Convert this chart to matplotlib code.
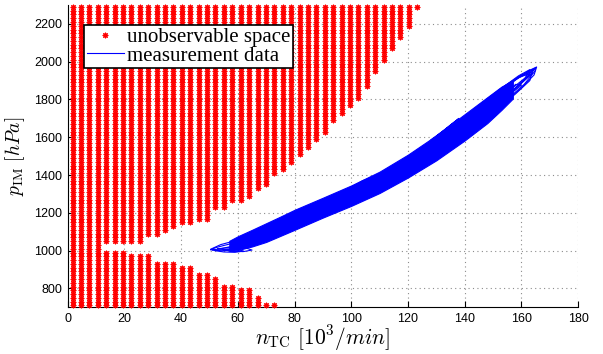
import matplotlib
matplotlib.use("Agg")
import matplotlib.pyplot as plt
import numpy as np

# grid of tested operating points (columns in n_TC, rows in p_IM)
n_grid = np.linspace(1.7, 123.3, 42)
p_grid = np.arange(710, 2300, 20)

# per column: lowest p of the upper unobservable block, highest p of the lower block
upper_min = [0, 0, 0, 0, 1050, 1050, 1050, 1050, 1050, 1090, 1090, 1110, 1130, 1150,
             1150, 1170, 1170, 1230, 1230, 1270, 1270, 1290, 1330, 1350, 1410, 1430,
             1470, 1510, 1550, 1590, 1630, 1690, 1730, 1770, 1810, 1870, 1950, 2010,
             2070, 2130, 2190, 2290]
lower_max = [0, 0, 0, 0, 990, 990, 990, 970, 970, 970, 930, 930, 930, 910, 910, 870,
             870, 850, 810, 810, 790, 790, 750, 710, 710, 0, 0, 0, 0, 0, 0, 0, 0, 0,
             0, 0, 0, 0, 0, 0, 0, 0]

# dense core of the measurement band
band_n = [57, 60, 65, 70, 75, 80, 90, 100, 110, 120, 130, 140, 148, 153, 157]
band_upper = [1052, 1076, 1110, 1145, 1180, 1216, 1280, 1345, 1418, 1508, 1610, 1722,
              1812, 1868, 1900]
band_lower = [998, 1003, 1022, 1046, 1078, 1110, 1175, 1237, 1305, 1387, 1478, 1583,
              1675, 1745, 1805]

# individual cycles visible at both ends of the band
loops = [
    ([50.5, 52, 55, 58, 61, 63, 61, 57, 53, 50.5],
     [1005, 1015, 1027, 1038, 1050, 1060, 1040, 1020, 1007, 1005]),
    ([52, 55, 59, 62, 60, 56, 52], [1000, 993, 991, 998, 1006, 1007, 1000]),
    ([55, 58, 62, 65, 63, 59, 55], [1004, 996, 995, 1003, 1013, 1014, 1004]),
    ([50.5, 54, 58, 62, 66], [1008, 1032, 1048, 1068, 1090]),
    ([51, 54, 57, 60], [1002, 999, 1002, 1010]),
    ([53, 56, 60, 57, 53], [1010, 1004, 1008, 1016, 1010]),
    ([135, 145, 155, 163, 165.4, 164.5, 160, 152, 144, 135],
     [1620, 1760, 1880, 1955, 1972, 1930, 1860, 1760, 1660, 1585]),
    ([138, 148, 156, 162, 164, 163, 158, 150, 140],
     [1660, 1790, 1885, 1945, 1960, 1900, 1830, 1730, 1620]),
    ([140, 150, 158, 165, 164.8, 161, 155, 147, 138],
     [1690, 1820, 1905, 1965, 1950, 1880, 1800, 1700, 1610]),
    ([142, 152, 160, 163.5, 160, 152, 145],
     [1720, 1850, 1930, 1945, 1890, 1780, 1680]),
    ([140, 148, 154, 157, 153, 146], [1660, 1755, 1830, 1850, 1790, 1700]),
    ([144, 150, 156, 161, 164, 162, 157, 151, 146],
     [1700, 1780, 1850, 1910, 1940, 1915, 1845, 1770, 1705]),
    ([146, 153, 159, 162.5, 165, 163, 158, 152],
     [1745, 1845, 1915, 1935, 1968, 1925, 1860, 1770]),
    ([150, 155, 160, 158, 154], [1760, 1815, 1875, 1880, 1830]),
    ([148, 154, 159, 163, 161, 156, 150], [1790, 1870, 1925, 1958, 1905, 1835, 1755]),
    ([143, 149, 155, 160, 163, 160, 154, 147], [1745, 1815, 1880, 1925, 1935, 1885, 1800, 1710]),
    ([118, 122, 126, 124, 120], [1475, 1515, 1555, 1525, 1485]),
    ([100, 105, 108, 104, 100], [1330, 1368, 1392, 1370, 1335]),
    ([128, 133, 138, 135, 130], [1585, 1640, 1700, 1665, 1605]),
]

plt.rcParams['mathtext.fontset'] = 'cm'
plt.rcParams['font.family'] = 'Liberation Sans'

fig = plt.figure(figsize=(6.03, 3.54), dpi=100)
ax = fig.add_axes([0.1123, 0.1319, 0.8463, 0.854])

# unobservable points
NN, PP = np.meshgrid(n_grid, p_grid)
UM = np.array(upper_min)[None, :]
LM = np.array(lower_max)[None, :]
mask = (PP >= UM) | (PP <= LM)
ax.plot(NN[mask], PP[mask], linestyle='none', marker=(8, 2, 0), markersize=4.0,
        markeredgewidth=0.8, color='red', clip_on=False, label='unobservable space',
        zorder=3)

# measurement data
ax.fill_between(band_n, band_lower, band_upper, color='blue', linewidth=0.8,
                edgecolor='blue', zorder=4)
first = True
for ln, lp in loops:
    ax.plot(ln, lp, color='blue', linewidth=0.8, zorder=4,
            label='measurement data' if first else None)
    first = False

ax.set_xlim(0, 180)
ax.set_ylim(700, 2300)
ax.set_xticks(np.arange(0, 181, 20))
ax.set_yticks(np.arange(800, 2201, 200))
ax.tick_params(direction='in', length=4, labelsize=9, width=0.8, pad=4)
ax.grid(True, color='0.55', linestyle=(0, (1, 3)), linewidth=0.8)
ax.set_axisbelow(True)
for s in ['top', 'right']:
    ax.spines[s].set_visible(False)

ax.set_xlabel(r'$n_{\mathrm{TC}}\ [10^3/min]$', fontsize=15.5, labelpad=-1)
ax.set_ylabel(r'$p_{\mathrm{IM}}\ [hPa]$', fontsize=14, labelpad=5)

leg = ax.legend(loc='upper left', bbox_to_anchor=(0.032, 0.934), borderaxespad=0,
                fancybox=False, framealpha=1, edgecolor='black',
                prop={'family': 'Liberation Serif', 'size': 15},
                handlelength=1.8, handletextpad=0.15, labelspacing=-0.05,
                borderpad=0.12, numpoints=1)
leg.get_frame().set_linewidth(1.2)
leg.set_zorder(6)

fig.savefig('out.png', dpi=100)
plt.close()
